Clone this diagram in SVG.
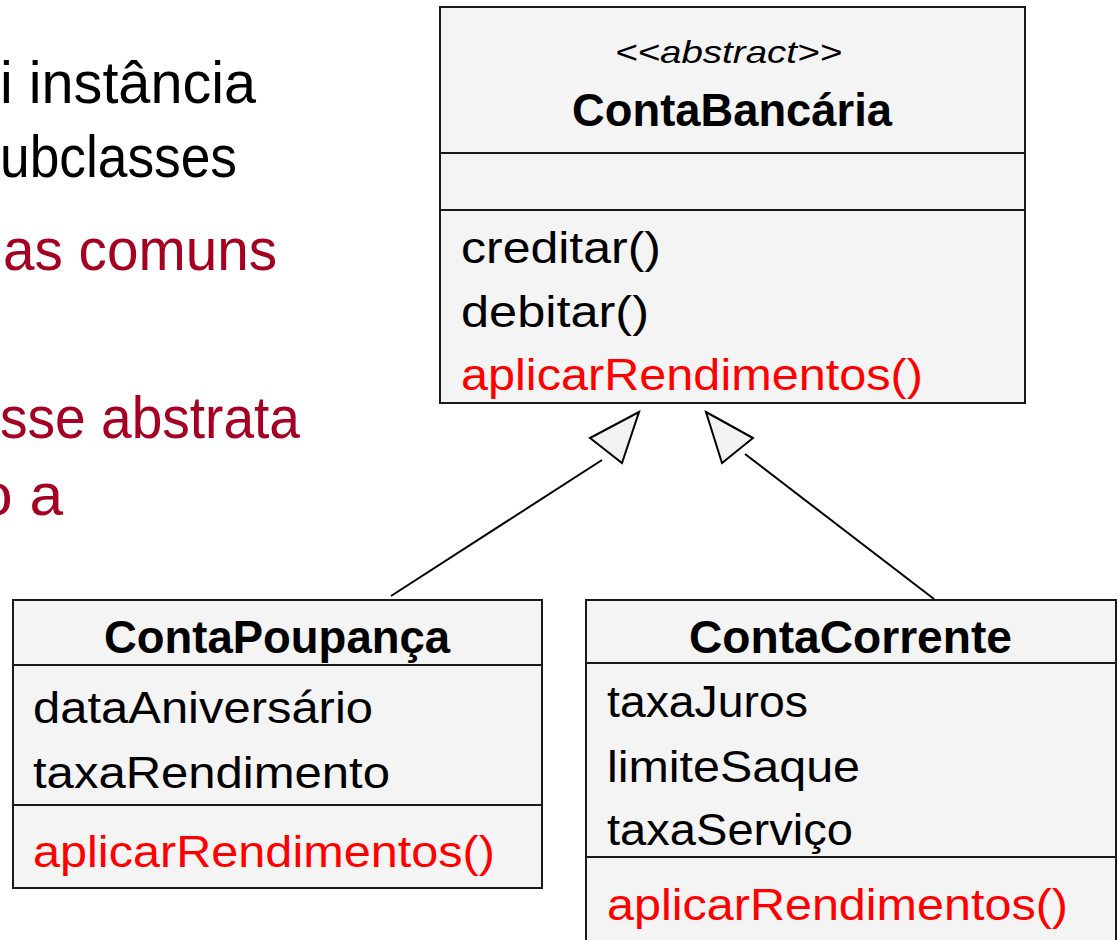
<svg xmlns="http://www.w3.org/2000/svg" width="1119" height="940" viewBox="0 0 1119 940">
<style>
.box{fill:#F4F4F4;stroke:#1a1a1a;stroke-width:2}
.div{stroke:#1a1a1a;stroke-width:2}
.t{font-family:"Liberation Sans",Arial,sans-serif;font-size:45px;fill:#000}
.r{fill:#FF0000}
.b{font-weight:bold;font-size:46px}
.i{font-style:italic;font-size:32px}
.side{font-family:"Liberation Sans",Arial,sans-serif;font-size:60px}
.dr{fill:#A50021}
.con{stroke:#000;stroke-width:2;fill:none}
.tri{fill:#F2F2F2;stroke:#000;stroke-width:2;stroke-linejoin:miter}
</style>
<rect width="1119" height="940" fill="#FFFFFF"/>
<g id="sidetext">
<text class="side" x="0" y="103" textLength="256" lengthAdjust="spacingAndGlyphs">i instância</text>
<text class="side" x="0" y="177" textLength="237" lengthAdjust="spacingAndGlyphs">ubclasses</text>
<text class="side dr" x="3" y="270" textLength="274" lengthAdjust="spacingAndGlyphs">as comuns</text>
<text class="side dr" x="0" y="438" textLength="300" lengthAdjust="spacingAndGlyphs">sse abstrata</text>
<text class="side dr" x="-21" y="515" textLength="84" lengthAdjust="spacingAndGlyphs">o a</text>
</g>
<g id="connectors">
<line class="con" x1="391" y1="596" x2="602" y2="460"/>
<polygon class="tri" points="639,412 590,438 622,463"/>
<line class="con" x1="934" y1="599" x2="745" y2="454"/>
<polygon class="tri" points="706,412 753,438 722,463"/>
</g>
<g id="ContaBancaria">
<rect class="box" x="440" y="7" width="585" height="396"/>
<line class="div" x1="440" y1="153" x2="1025" y2="153"/>
<line class="div" x1="440" y1="210" x2="1025" y2="210"/>
<text class="t i" x="615" y="63" textLength="227" lengthAdjust="spacingAndGlyphs">&lt;&lt;abstract&gt;&gt;</text>
<text class="t b" x="572" y="126" textLength="320" lengthAdjust="spacingAndGlyphs">ContaBancária</text>
<text class="t" x="461" y="263" textLength="200" lengthAdjust="spacingAndGlyphs">creditar()</text>
<text class="t" x="461" y="327" textLength="188" lengthAdjust="spacingAndGlyphs">debitar()</text>
<text class="t r" x="461" y="390" textLength="462" lengthAdjust="spacingAndGlyphs">aplicarRendimentos()</text>
</g>
<g id="ContaPoupanca">
<rect class="box" x="13" y="600" width="529" height="288"/>
<line class="div" x1="13" y1="665" x2="542" y2="665"/>
<line class="div" x1="13" y1="805" x2="542" y2="805"/>
<text class="t b" x="104" y="653" textLength="346" lengthAdjust="spacingAndGlyphs">ContaPoupança</text>
<text class="t" x="33" y="723" textLength="340" lengthAdjust="spacingAndGlyphs">dataAniversário</text>
<text class="t" x="33" y="788" textLength="357" lengthAdjust="spacingAndGlyphs">taxaRendimento</text>
<text class="t r" x="33" y="867" textLength="462" lengthAdjust="spacingAndGlyphs">aplicarRendimentos()</text>
</g>
<g id="ContaCorrente">
<rect class="box" x="586" y="600" width="530" height="360"/>
<line class="div" x1="586" y1="663" x2="1116" y2="663"/>
<line class="div" x1="586" y1="857" x2="1116" y2="857"/>
<text class="t b" x="689" y="653" textLength="323" lengthAdjust="spacingAndGlyphs">ContaCorrente</text>
<text class="t" x="607" y="717" textLength="201" lengthAdjust="spacingAndGlyphs">taxaJuros</text>
<text class="t" x="607" y="782" textLength="253" lengthAdjust="spacingAndGlyphs">limiteSaque</text>
<text class="t" x="607" y="845" textLength="246" lengthAdjust="spacingAndGlyphs">taxaServiço</text>
<text class="t r" x="607" y="920" textLength="461" lengthAdjust="spacingAndGlyphs">aplicarRendimentos()</text>
</g>
</svg>
